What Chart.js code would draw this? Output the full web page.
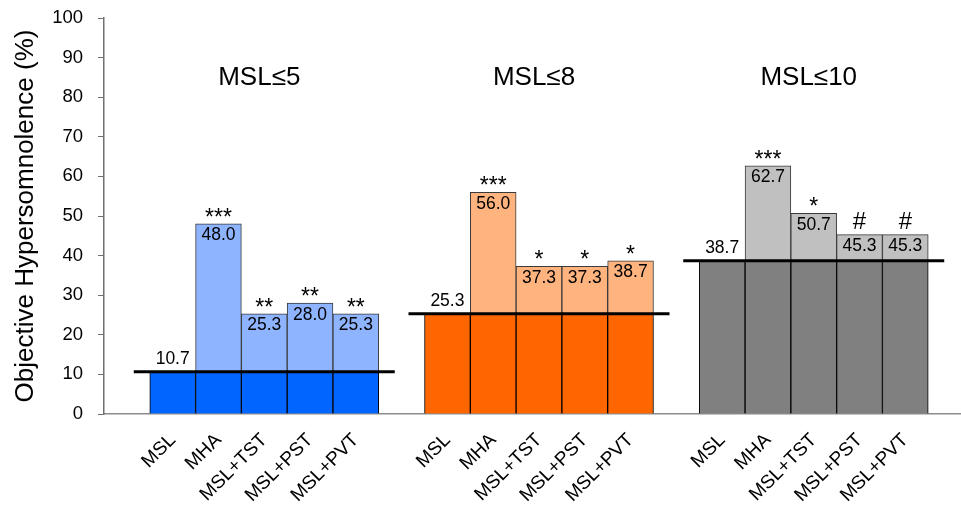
<!DOCTYPE html>
<html>
<head>
<meta charset="utf-8">
<script src="https://cdn.jsdelivr.net/npm/chart.js@4/dist/chart.umd.min.js"></script>
<style>
  html, body { margin: 0; padding: 0; background: #fff; overflow: hidden; }
  #wrap { width: 974px; height: 508px; }
</style>
</head>
<body>
<div id="wrap"><canvas id="chart" width="974" height="508"></canvas></div>
<script>
// categories and groups
const measures = ["MSL", "MHA", "MSL+TST", "MSL+PST", "MSL+PVT"];
const groupTitles = ["MSL\u22645", "MSL\u22648", "MSL\u226410"];

// percent with objective hypersomnolence, per group
const valuesMsl5 = [10.7, 48.0, 25.3, 28.0, 25.3];
const valuesMsl8 = [25.3, 56.0, 37.3, 37.3, 38.7];
const valuesMsl10 = [38.7, 62.7, 50.7, 45.3, 45.3];

// significance marks above bars
const marksMsl5 = ["", "***", "**", "**", "**"];
const marksMsl8 = ["", "***", "*", "*", "*"];
const marksMsl10 = ["", "***", "*", "#", "#"];

const yTicks = [0, 10, 20, 30, 40, 50, 60, 70, 80, 90, 100];

const darkColors = ["#0066FF", "#FF6600", "#808080"];
const lightColors = ["#8EB4FF", "#FFB37F", "#C0C0C0"];

const groupValues = [valuesMsl5, valuesMsl8, valuesMsl10];
const groupMarks = [marksMsl5, marksMsl8, marksMsl10];

// build the flat category axis: a blank slot before each group and one at the end
const labels = [];
const baseData = [];
const extraData = [];
const baseColors = [];
const extraColors = [];
const barIndex = []; // barIndex[g][j] -> index on the x axis

groupValues.forEach((vals, g) => {
    labels.push(""); baseData.push(null); extraData.push(null);
    baseColors.push("transparent"); extraColors.push("transparent");
    barIndex.push([]);
    vals.forEach((v, j) => {
        barIndex[g].push(labels.length);
        labels.push(measures[j]);
        baseData.push(vals[0]);
        extraData.push(j === 0 ? null : +(v - vals[0]).toFixed(1));
        baseColors.push(darkColors[g]);
        extraColors.push(lightColors[g]);
    });
});
labels.push(""); baseData.push(null); extraData.push(null);
baseColors.push("transparent"); extraColors.push("transparent");

const FONT = "'Liberation Sans', Arial, sans-serif";

// values, marks, baselines and group titles
const annotate = {
    id: "annotate",
    afterDatasetsDraw(chart) {
        const { ctx, scales: { x, y } } = chart;
        const slot = x.width / labels.length;
        ctx.save();
        groupValues.forEach((vals, g) => {
            const base = y.getPixelForValue(vals[0]);
            const idx = barIndex[g];
            ctx.fillStyle = "#000";
            ctx.textAlign = "center";
            ctx.textBaseline = "alphabetic";
            vals.forEach((v, j) => {
                const cx = x.getPixelForValue(idx[j]);
                const top = y.getPixelForValue(v);
                ctx.font = "17.5px " + FONT;
                if (j === 0) {
                    ctx.fillText(v.toFixed(1), cx, base - 8);
                } else {
                    ctx.fillText(v.toFixed(1), cx, top + 16.5);
                }
                const m = groupMarks[g][j];
                if (m) {
                    ctx.font = (m === "#" ? "24px " : "23px ") + FONT;
                    ctx.fillText(m, cx, m === "#" ? top - 6 : top + 1);
                }
            });
            // baseline across the group
            const left = x.getPixelForValue(idx[0]) - slot * 0.5 - slot * 0.35;
            const right = x.getPixelForValue(idx[idx.length - 1]) + slot * 0.5 + slot * 0.35;
            ctx.strokeStyle = "#000";
            ctx.lineWidth = 3;
            ctx.beginPath();
            ctx.moveTo(left, base);
            ctx.lineTo(right, base);
            ctx.stroke();
            // group title
            const mid = (x.getPixelForValue(idx[0]) + x.getPixelForValue(idx[idx.length - 1])) / 2;
            ctx.font = "26px " + FONT;
            ctx.textBaseline = "middle";
            ctx.fillText(groupTitles[g], mid - 5, y.getPixelForValue(85));
        });
        ctx.restore();
    }
};

new Chart(document.getElementById("chart"), {
    type: "bar",
    data: {
        labels: labels,
        datasets: [
            { data: baseData, backgroundColor: baseColors, borderColor: "#000", borderWidth: 1 },
            { data: extraData, backgroundColor: extraColors, borderColor: "#3a3a3a", borderWidth: 1 }
        ]
    },
    options: {
        responsive: false,
        animation: false,
        events: [],
        layout: { padding: 0 },
        plugins: { legend: { display: false }, tooltip: { enabled: false } },
        datasets: { bar: { barPercentage: 1, categoryPercentage: 1 } },
        scales: {
            x: {
                stacked: true,
                afterFit(scale) {
                    scale.height = 94;
                    scale.paddingLeft = 0;
                    scale.paddingRight = 0;
                },
                grid: { display: true, drawOnChartArea: false, drawTicks: false },
                border: { display: true, color: "#8c8c8c", width: 1.5 },
                ticks: {
                    autoSkip: false,
                    minRotation: 45,
                    maxRotation: 45,
                    padding: 15,
                    color: "#000",
                    font: { family: FONT, size: 19 }
                }
            },
            y: {
                stacked: true,
                min: 0,
                max: 100,
                afterBuildTicks(scale) { scale.ticks = yTicks.map(v => ({ value: v })); },
                afterFit(scale) {
                    scale.width = 104;
                    scale.paddingTop = 18;
                    scale.paddingBottom = 0;
                },
                grid: { display: true, drawOnChartArea: false, tickLength: 6, color: "#707070" },
                border: { display: true, color: "#707070", width: 1.5 },
                ticks: {
                    padding: 15,
                    color: "#000",
                    font: { family: FONT, size: 18.5 }
                },
                title: {
                    display: true,
                    text: "Objective Hypersomnolence (%)",
                    color: "#000",
                    font: { family: FONT, size: 26 },
                    padding: { top: 10, bottom: 0 }
                }
            }
        }
    },
    plugins: [annotate]
});
</script>
</body>
</html>
